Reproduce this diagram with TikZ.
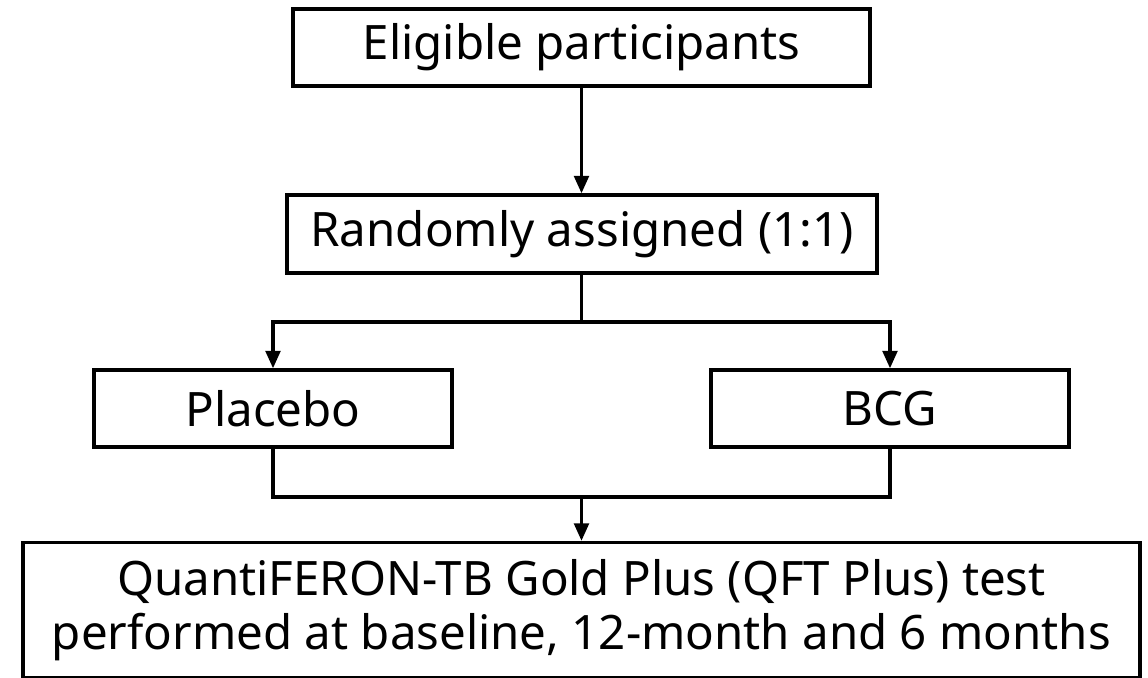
\documentclass[tikz,border=0pt]{standalone}
\usepackage{fontspec}
\setmainfont{Noto Sans}
\usepackage{tikz}
\usetikzlibrary{positioning,arrows.meta}
\definecolor{ink}{HTML}{000000}
\tikzset{
  flowbox/.style={draw=ink,line width=0.95pt,fill=white,inner sep=0pt,align=center,
    font=\fontsize{13.5}{15.4}\selectfont},
  flowline/.style={draw=ink,line width=0.95pt},
  flowarrow/.style={flowline,-{Triangle[length=5pt,width=4.2pt]}}
}

\begin{document}
\begin{tikzpicture}
    \useasboundingbox (0,0) rectangle (11.48,6.78);
    \node[flowbox,minimum width=5.77cm,minimum height=0.77cm] (elig) at (5.815,6.305) {Eligible participants};
    \node[flowbox,minimum width=5.90cm,minimum height=0.78cm] (rand) at (5.82,4.44) {Randomly assigned (1:1)};
    \node[flowbox,minimum width=3.58cm,minimum height=0.77cm] (placebo) at (2.73,2.695) {Placebo};
    \node[flowbox,minimum width=3.58cm,minimum height=0.77cm] (bcg) at (8.90,2.695) {BCG};
    \node[flowbox,minimum width=11.17cm,minimum height=1.35cm] (qft) at (5.815,0.68)
      {QuantiFERON-TB Gold Plus (QFT Plus) test\\performed at baseline, 12-month and 6 months};
    \coordinate (split) at (5.815,3.56);
    \coordinate (merge) at (5.815,1.81);
    \draw[flowarrow] (elig.south) -- (elig.south |- rand.north);
    \draw[flowline] (rand.south -| split) -- (split);
    \draw[flowarrow] (split) -| (placebo.north);
    \draw[flowarrow] (split) -| (bcg.north);
    \draw[flowline] (placebo.south) |- (merge) -| (bcg.south);
    \draw[flowarrow] (merge) -- (merge |- qft.north);
  \end{tikzpicture}
\end{document}
